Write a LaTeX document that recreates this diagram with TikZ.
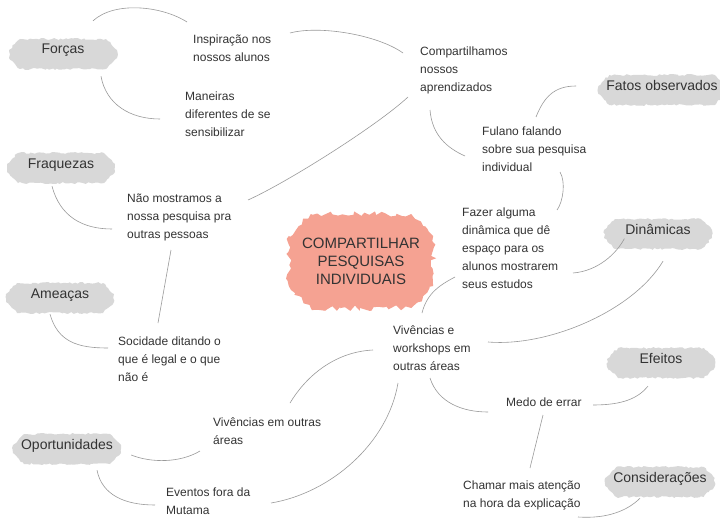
\documentclass[tikz,border=0pt]{standalone}
\usepackage{fontspec}
\setmainfont{Liberation Sans}
\usetikzlibrary{decorations.pathmorphing,shapes.misc}

\definecolor{ink}{HTML}{333333}
\definecolor{linegray}{HTML}{9A9A9A}
\definecolor{blobgray}{HTML}{D8D8D8}
\definecolor{salmon}{HTML}{F5A292}

\tikzset{
  topic/.style={chamfered rectangle, chamfered rectangle xsep=6pt, chamfered rectangle ysep=5pt,
    fill=blobgray, decorate, decoration={random steps, segment length=2.5pt, amplitude=1pt},
    minimum width=108pt, minimum height=24pt, inner sep=2pt, text height=8pt, text depth=8pt,
    text=ink, font=\fontsize{14}{16}\selectfont},
  note/.style={anchor=north west, align=left, inner sep=3pt, text=ink, font=\fontsize{12}{18}\selectfont},
  link/.style={draw=linegray, line width=0.6pt},
}

\begin{document}
\begin{tikzpicture}[x=1pt,y=-1pt]
  \useasboundingbox[fill=white] (0,0) rectangle (720,519);
  \pgfmathsetseed{11}

  % centre
  \node [chamfered rectangle, chamfered rectangle xsep=10pt, chamfered rectangle ysep=12pt,
    fill=salmon, decorate, decoration={random steps, segment length=4pt, amplitude=3pt},
    minimum width=122pt, minimum height=94pt, align=center, text=ink,
    font=\fontsize{15}{18}\selectfont] (centro) at (361,261) {COMPARTILHAR\\PESQUISAS\\INDIVIDUAIS};

  % topics
  \node [topic] (forcas) at (63,54) {Forças};
  \node [topic] (fraquezas) at (61,168) {Fraquezas};
  \node [topic] (ameacas) at (60,298) {Ameaças};
  \node [topic] (oport) at (67,449) {Oportunidades};
  \node [topic] (fatos) at (662,90) {Fatos observados};
  \node [topic] (dinam) at (658,234) {Dinâmicas};
  \node [topic] (efeitos) at (661,363) {Efeitos};
  \node [topic] (consid) at (660,482) {Considerações};

  % notes
  \node [note] (insp) at (190,32) {Inspiração nos\\nossos alunos};
  \node [note] (maneiras) at (182,89) {Maneiras\\diferentes de se\\sensibilizar};
  \node [note] (compart) at (417,44) {Compartilhamos\\nossos\\aprendizados};
  \node [note] (fulano) at (479,124) {Fulano falando\\sobre sua pesquisa\\individual};
  \node [note] (fazer) at (459,205) {Fazer alguma\\dinâmica que dê\\espaço para os\\alunos mostrarem\\seus estudos};
  \node [note] (naomostr) at (124,191) {Não mostramos a\\nossa pesquisa pra\\outras pessoas};
  \node [note] (socied) at (115,334) {Socidade ditando o\\que é legal e o que\\não é};
  \node [note] (vivwork) at (390,323) {Vivências e\\workshops em\\outras áreas};
  \node [note] (vivareas) at (210,415) {Vivências em outras\\áreas};
  \node [note] (medo) at (503,395) {Medo de errar};
  \node [note] (eventos) at (163,485) {Eventos fora da\\Mutama};
  \node [note] (chamar) at (460,478) {Chamar mais atenção\\na hora da explicação};

  % links
  \draw[link] ([shift={(30,-18)}]forcas.north) .. controls +(22,-20) and +(-25,-16) .. ([shift={(-3,-10)}]insp.north west);
  \draw[link] ([shift={(38,7)}]forcas.south) .. controls +(5,28) and +(-30,0) .. ([shift={(-22,30)}]maneiras.north west);
  \draw[link] ([shift={(100,1)}]insp.north west) .. controls +(30,-8) and +(-25,-18) .. ([shift={(-14,9)}]compart.north west);
  \draw[link] ([shift={(-9,53)}]compart.north west) .. controls +(-30,28) and +(40,-18) .. ([shift={(124,9)}]naomostr.north west);
  \draw[link] ([shift={(13,66)}]compart.north west) .. controls +(2,25) and +(-18,-8) .. ([shift={(-14,32)}]fulano.north west);
  \draw[link] ([shift={(57,-7)}]fulano.north west) .. controls +(8,-20) and +(-22,0) .. ([shift={(-22,-4)}]fatos.west);
  \draw[link] ([shift={(81,48)}]fulano.north west) .. controls +(6,10) and +(6,-8) .. ([shift={(98,5)}]fazer.north west);
  \draw[link] ([shift={(114,68)}]fazer.north west) .. controls +(25,-2) and +(-8,15) .. ([shift={(15,-5)}]dinam.south west);
  \draw[link] ([shift={(5,12)}]dinam.south) .. controls +(-30,50) and +(60,5) .. ([shift={(98,19)}]vivwork.north west);
  \draw[link] ([shift={(32,-10)}]vivwork.north west) .. controls +(5,-20) and +(-15,8) .. ([shift={(-4,72)}]fazer.north west);
  \draw[link] ([shift={(-17,27)}]vivwork.north west) .. controls +(-40,2) and +(15,-25) .. ([shift={(80,-12)}]vivareas.north west);
  \draw[link] ([shift={(-10,36)}]vivareas.north west) .. controls +(-20,12) and +(20,8) .. ([shift={(10,6)}]oport.east);
  \draw[link] ([shift={(30,6)}]oport.south) .. controls +(5,25) and +(-30,0) .. ([shift={(-8,20)}]eventos.north west);
  \draw[link] ([shift={(108,18)}]eventos.north west) .. controls +(60,-10) and +(-10,60) .. ([shift={(8,60)}]vivwork.north west);
  \draw[link] ([shift={(40,55)}]vivwork.north west) .. controls +(8,25) and +(-25,0) .. ([shift={(-15,17)}]medo.north west);
  \draw[link] ([shift={(90,10)}]medo.north west) .. controls +(30,0) and +(-10,12) .. ([shift={(-13,8)}]efeitos.south);
  \draw[link] ([shift={(40,20)}]medo.north west) -- ([shift={(70,-10)}]chamar.north west);
  \draw[link] ([shift={(118,39)}]chamar.north west) .. controls +(30,2) and +(-12,12) .. ([shift={(-20,1)}]consid.south);
  \draw[link] ([shift={(-9,3)}]fraquezas.south) .. controls +(8,30) and +(-30,0) .. ([shift={(-12,38)}]naomostr.north west);
  \draw[link] ([shift={(47,59)}]naomostr.north west) -- ([shift={(43,-11)}]socied.north west);
  \draw[link] ([shift={(-10,1)}]ameacas.south) .. controls +(8,28) and +(-30,0) .. ([shift={(-7,14)}]socied.north west);
\end{tikzpicture}
\end{document}
